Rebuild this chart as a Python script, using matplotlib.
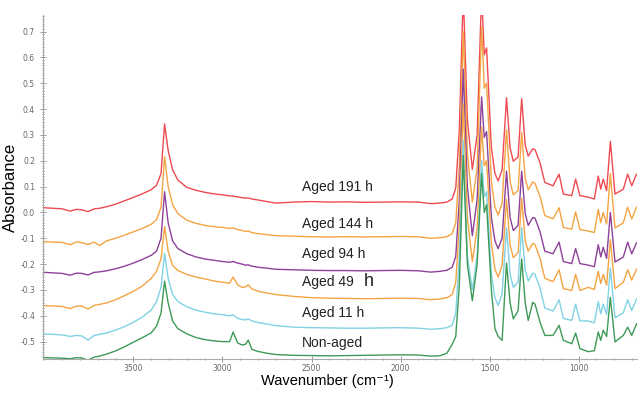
import matplotlib.pyplot as plt
from matplotlib.ticker import MultipleLocator, FormatStrFormatter

# wavenumber grid (cm-1) shared by all spectra
wavenumber = [4000, 3950, 3900, 3855, 3820, 3790, 3755, 3720, 3690, 3650,
              3600, 3550, 3500, 3450, 3400, 3370, 3345, 3325, 3305, 3280,
              3250, 3200, 3150, 3100, 3050, 3000, 2960, 2940, 2915, 2890,
              2870, 2855, 2835, 2800, 2750, 2700, 2600, 2500, 2400, 2300,
              2200, 2100, 2000, 1900, 1830, 1780, 1740, 1710, 1690, 1670,
              1648, 1625, 1597, 1570, 1545, 1530, 1517, 1490, 1470, 1452,
              1430, 1405, 1385, 1367, 1340, 1320, 1300, 1283, 1258, 1245,
              1217, 1190, 1144, 1110, 1086, 1039, 1017, 993, 946, 912,
              890, 876, 862, 843, 822, 796, 749, 725, 702, 675]

aged_191 = [0.018, 0.016, 0.014, 0.005, 0.012, 0.010, 0.003, 0.014, 0.016, 0.022,
            0.032, 0.045, 0.058, 0.072, 0.088, 0.105, 0.150, 0.342, 0.240, 0.165,
            0.125, 0.097, 0.086, 0.078, 0.072, 0.068, 0.064, 0.063, 0.060, 0.057,
            0.055, 0.056, 0.052, 0.048, 0.042, 0.036, 0.040, 0.042, 0.040, 0.041,
            0.039, 0.040, 0.041, 0.040, 0.034, 0.036, 0.040, 0.052, 0.095, 0.320,
            0.850, 0.360, 0.167, 0.300, 0.850, 0.610, 0.637, 0.250, 0.150, 0.122,
            0.165, 0.444, 0.250, 0.198, 0.215, 0.440, 0.260, 0.218, 0.246, 0.243,
            0.192, 0.116, 0.103, 0.148, 0.071, 0.065, 0.129, 0.065, 0.059, 0.052,
            0.141, 0.090, 0.129, 0.084, 0.275, 0.071, 0.090, 0.148, 0.103, 0.148]

aged_144 = [-0.113, -0.115, -0.116, -0.125, -0.114, -0.117, -0.124, -0.115, -0.128, -0.110,
            -0.100, -0.088, -0.075, -0.062, -0.046, -0.028, 0.020, 0.216, 0.100, 0.030,
            -0.005, -0.030, -0.042, -0.050, -0.055, -0.058, -0.062, -0.060, -0.066, -0.070,
            -0.074, -0.072, -0.078, -0.082, -0.086, -0.090, -0.092, -0.094, -0.095, -0.094,
            -0.095, -0.094, -0.093, -0.094, -0.100, -0.098, -0.094, -0.082, -0.040, 0.180,
            0.700, 0.230, 0.040, 0.170, 0.720, 0.480, 0.500, 0.120, 0.020, -0.010,
            0.035, 0.320, 0.120, 0.068, 0.085, 0.310, 0.130, 0.088, 0.118, 0.112,
            0.062, -0.012, -0.025, 0.018, -0.058, -0.065, 0.002, -0.066, -0.072, -0.078,
            0.012, -0.040, 0.000, -0.045, 0.150, -0.060, -0.040, 0.020, -0.025, 0.020]

aged_94 = [-0.232, -0.234, -0.236, -0.243, -0.235, -0.236, -0.242, -0.232, -0.230, -0.226,
           -0.218, -0.208, -0.196, -0.182, -0.166, -0.150, -0.100, 0.080, -0.040, -0.110,
           -0.140, -0.160, -0.172, -0.180, -0.185, -0.190, -0.193, -0.190, -0.196, -0.200,
           -0.204, -0.203, -0.208, -0.212, -0.216, -0.220, -0.222, -0.224, -0.225, -0.225,
           -0.226, -0.225, -0.224, -0.226, -0.231, -0.228, -0.224, -0.212, -0.170, 0.050,
           0.555, 0.100, -0.090, 0.050, 0.447, 0.290, 0.313, -0.020, -0.110, -0.140,
           -0.100, 0.160, -0.020, -0.070, -0.050, 0.160, -0.005, -0.050, -0.020, -0.022,
           -0.075, -0.150, -0.160, -0.115, -0.190, -0.198, -0.140, -0.198, -0.204, -0.210,
           -0.125, -0.172, -0.135, -0.178, 0.000, -0.192, -0.172, -0.115, -0.160, -0.118]

aged_49 = [-0.361, -0.362, -0.364, -0.372, -0.363, -0.362, -0.374, -0.360, -0.356, -0.350,
           -0.338, -0.322, -0.305, -0.285, -0.255, -0.228, -0.180, -0.055, -0.150, -0.205,
           -0.225, -0.240, -0.250, -0.257, -0.265, -0.270, -0.274, -0.250, -0.280, -0.290,
           -0.288, -0.280, -0.296, -0.305, -0.312, -0.318, -0.325, -0.330, -0.332, -0.333,
           -0.334, -0.333, -0.332, -0.333, -0.338, -0.335, -0.330, -0.318, -0.270, -0.050,
           0.420, -0.020, -0.190, -0.060, 0.330, 0.180, 0.200, -0.120, -0.220, -0.250,
           -0.205, 0.050, -0.125, -0.175, -0.155, 0.055, -0.110, -0.150, -0.120, -0.125,
           -0.178, -0.255, -0.268, -0.222, -0.295, -0.302, -0.240, -0.302, -0.290, -0.298,
           -0.228, -0.275, -0.240, -0.282, -0.105, -0.295, -0.270, -0.222, -0.262, -0.220]

aged_11 = [-0.470, -0.472, -0.474, -0.480, -0.476, -0.478, -0.494, -0.476, -0.472, -0.466,
           -0.455, -0.442, -0.425, -0.405, -0.378, -0.345, -0.290, -0.158, -0.255, -0.318,
           -0.345, -0.365, -0.378, -0.386, -0.392, -0.396, -0.400, -0.396, -0.410, -0.414,
           -0.416, -0.412, -0.420, -0.426, -0.432, -0.438, -0.444, -0.446, -0.447, -0.448,
           -0.448, -0.447, -0.446, -0.448, -0.452, -0.450, -0.446, -0.436, -0.390, -0.170,
           0.280, -0.170, -0.300, -0.170, 0.200, 0.060, 0.080, -0.240, -0.330, -0.360,
           -0.315, -0.060, -0.240, -0.290, -0.270, -0.060, -0.225, -0.265, -0.235, -0.240,
           -0.292, -0.370, -0.382, -0.338, -0.410, -0.418, -0.355, -0.420, -0.420, -0.428,
           -0.345, -0.392, -0.355, -0.395, -0.215, -0.408, -0.388, -0.338, -0.380, -0.335]

non_aged = [-0.562, -0.563, -0.564, -0.566, -0.562, -0.563, -0.572, -0.560, -0.556, -0.548,
            -0.536, -0.520, -0.502, -0.485, -0.466, -0.440, -0.390, -0.266, -0.350, -0.420,
            -0.450, -0.470, -0.484, -0.492, -0.497, -0.500, -0.500, -0.463, -0.505, -0.513,
            -0.510, -0.494, -0.530, -0.538, -0.545, -0.550, -0.553, -0.554, -0.555, -0.554,
            -0.553, -0.552, -0.551, -0.552, -0.556, -0.555, -0.545, -0.510, -0.480, -0.280,
            0.220, -0.200, -0.342, -0.200, 0.150, 0.000, 0.030, -0.300, -0.450, -0.480,
            -0.495, -0.196, -0.350, -0.412, -0.380, -0.180, -0.350, -0.418, -0.348, -0.355,
            -0.425, -0.476, -0.476, -0.437, -0.495, -0.508, -0.467, -0.527, -0.539, -0.535,
            -0.463, -0.495, -0.456, -0.480, -0.329, -0.501, -0.476, -0.444, -0.476, -0.431]

spectra = [aged_191, aged_144, aged_94, aged_49, aged_11, non_aged]
colors = ['#ee4a52', '#f4a443', '#8d4199', '#f4a443', '#80d2e4', '#3d9a57']
labels = ['Aged 191 h', 'Aged 144 h', 'Aged 94 h', 'Aged 49', 'Aged 11 h', 'Non-aged']
label_y = [0.098, -0.043, -0.161, -0.268, -0.389, -0.504]

fig = plt.figure(figsize=(6.38, 3.95), dpi=100)
ax = fig.add_axes([0.067, 0.09, 0.931, 0.872])

for y, c in zip(spectra, colors):
    ax.plot(wavenumber, y, color=c, linewidth=1.0)

for lab, ly in zip(labels, label_y):
    ax.text(2555, ly, lab, fontsize=10, family='Liberation Sans',
            color='#222222', va='center', ha='left')
# the "h" after 49 is set larger in the original
ax.text(2205, -0.268, 'h', fontsize=13, family='Liberation Sans',
        color='#222222', va='center', ha='left')

ax.set_xlim(4009, 674)
ax.set_ylim(-0.569, 0.764)

ax.xaxis.set_major_locator(MultipleLocator(500))
ax.xaxis.set_minor_locator(MultipleLocator(100))
ax.yaxis.set_major_locator(MultipleLocator(0.1))
ax.yaxis.set_minor_locator(MultipleLocator(0.01))
ax.yaxis.set_major_formatter(FormatStrFormatter('%.1f'))
ax.set_xticks([3500, 3000, 2500, 2000, 1500, 1000])

ax.tick_params(which='both', direction='inout', colors='#888888', labelcolor='#666666',
               labelsize=5.5, width=0.6)
ax.tick_params(which='major', length=4)
ax.tick_params(which='minor', length=2)
ax.tick_params(axis='x', pad=1.5)

for side in ['top', 'right']:
    ax.spines[side].set_visible(False)
for side in ['left', 'bottom']:
    ax.spines[side].set_color('#aaaaaa')
    ax.spines[side].set_linewidth(0.8)

ax.set_ylabel('Absorbance', fontsize=12, family='Liberation Sans')
ax.yaxis.set_label_coords(-0.042, 0.5)
ax.set_xlabel('Wavenumber (cm\u207b\u00b9)', fontsize=10.5,
              family=['Liberation Sans', 'DejaVu Sans'])
ax.xaxis.set_label_coords(0.48, -0.042)

fig.savefig('out.png', dpi=100)
